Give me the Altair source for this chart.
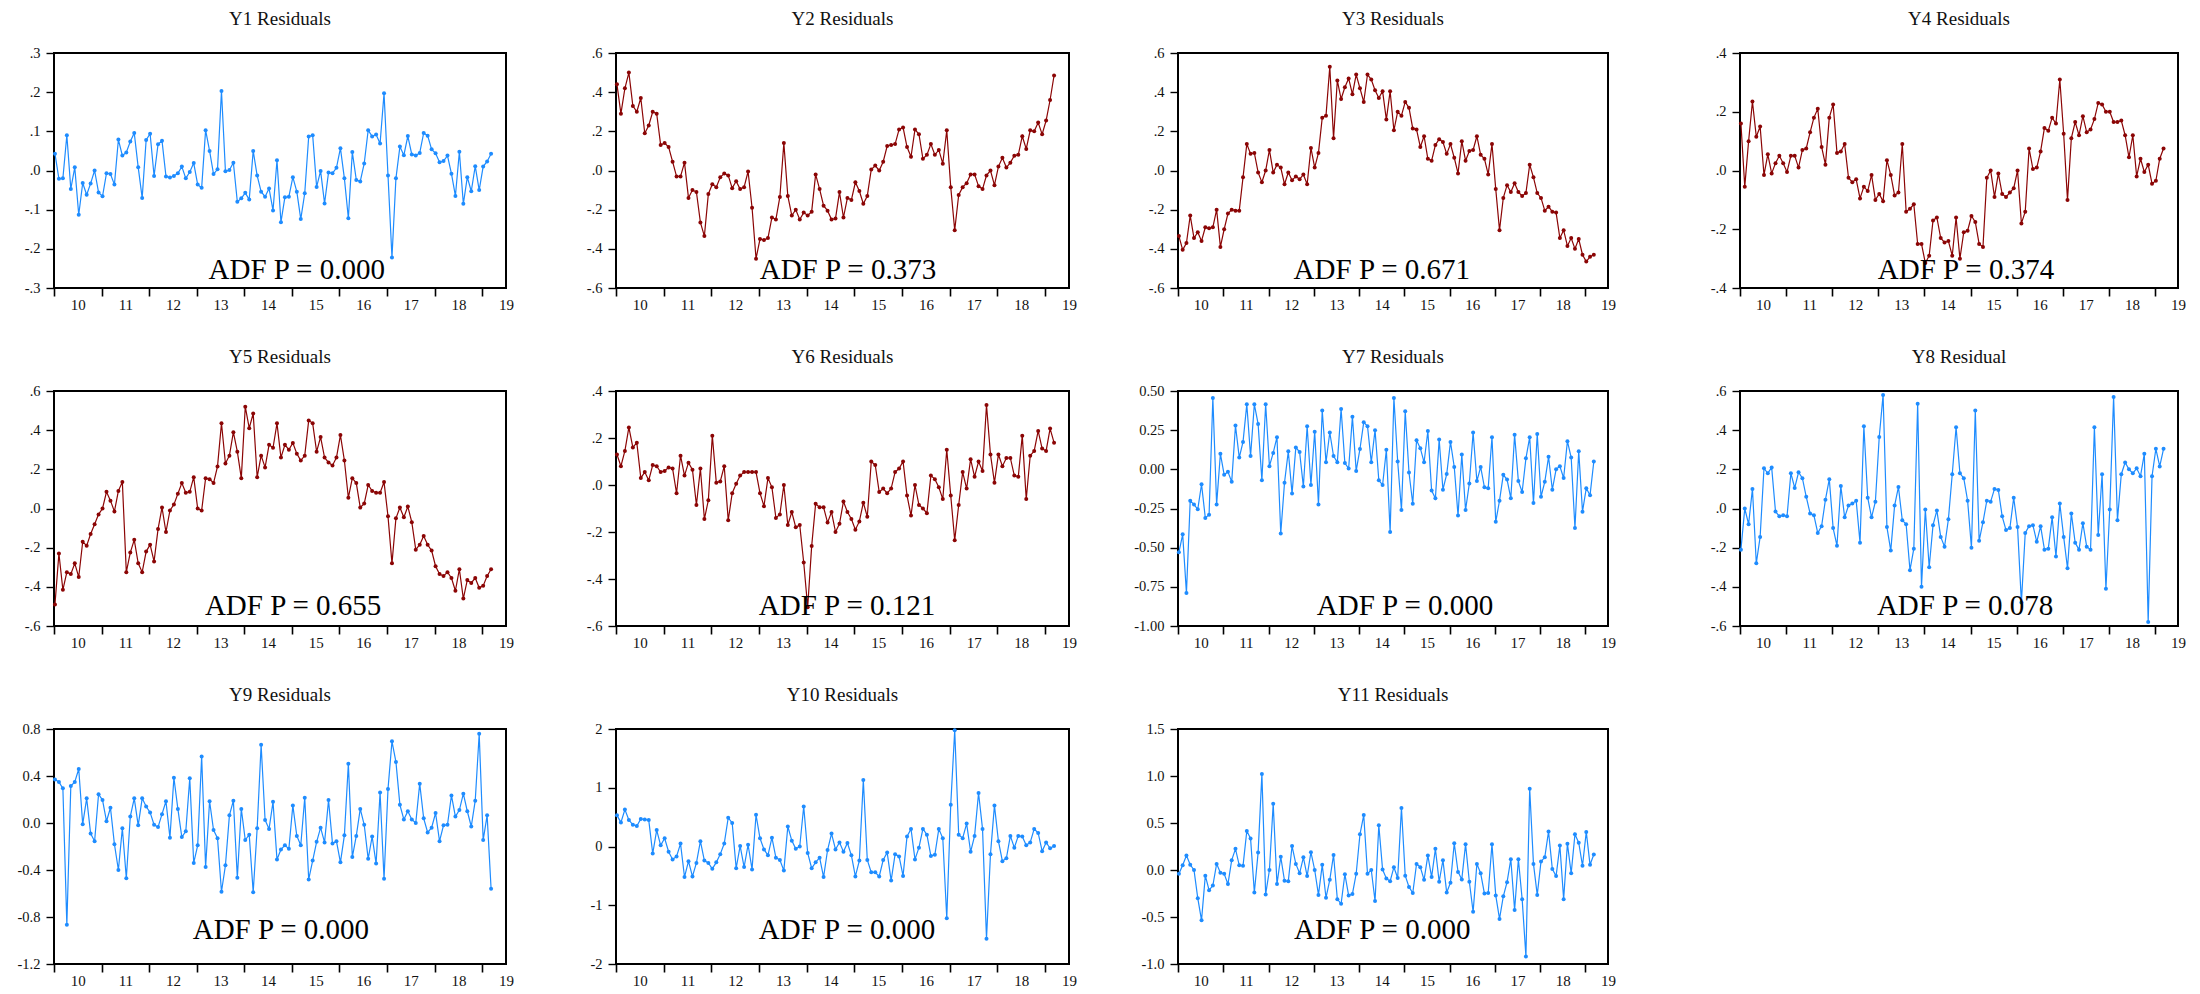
import altair as alt
import pandas as pd

# ---------------- data (monthly, Jan 2010 .. Mar 2019) ----------------
START_YEAR = 2010
N = 111
t = [START_YEAR + i / 12 + 0.02 for i in range(N)]

titles = ["Y1 Residuals", "Y2 Residuals", "Y3 Residuals", "Y4 Residuals",
          "Y5 Residuals", "Y6 Residuals", "Y7 Residuals", "Y8 Residual",
          "Y9 Residuals", "Y10 Residuals", "Y11 Residuals"]
adf_labels = ["ADF P = 0.000", "ADF P = 0.373", "ADF P = 0.671", "ADF P = 0.374",
              "ADF P = 0.655", "ADF P = 0.121", "ADF P = 0.000", "ADF P = 0.078",
              "ADF P = 0.000", "ADF P = 0.000", "ADF P = 0.000"]

y1 = [0.043, -0.021, -0.02, 0.09, -0.047, 0.008, -0.113, -0.032, -0.062, -0.033,
      0.0, -0.056, -0.066, -0.007, -0.009, -0.036, 0.079, 0.038, 0.046, 0.074,
      0.096, 0.008, -0.07, 0.078, 0.094, -0.014, 0.067, 0.076, -0.015, -0.018,
      -0.014, -0.007, 0.01, -0.02, -0.004, 0.019, -0.036, -0.044, 0.103, 0.05,
      -0.009, 0.003, 0.203, -0.002, 0.001, 0.02, -0.08, -0.071, -0.057, -0.074,
      0.05, -0.013, -0.054, -0.067, -0.046, -0.102, 0.026, -0.132, -0.068, -0.067,
      -0.017, -0.054, -0.124, -0.058, 0.087, 0.09, -0.042, -0.001, -0.084, -0.005,
      -0.007, 0.007, 0.057, -0.02, -0.122, 0.047, -0.024, -0.028, 0.018, 0.103,
      0.087, 0.092, 0.069, 0.197, -0.013, -0.222, -0.02, 0.061, 0.039, 0.088,
      0.041, 0.038, 0.045, 0.096, 0.089, 0.054, 0.044, 0.021, 0.024, 0.038,
      -0.008, -0.065, 0.048, -0.085, -0.017, -0.053, 0.011, -0.05, 0.01, 0.023,
      0.043]

y2 = [0.44, 0.29, 0.42, 0.50, 0.33, 0.30, 0.37, 0.19, 0.23, 0.30,
      0.29, 0.13, 0.14, 0.12, 0.045, -0.03, -0.03, 0.04, -0.14, -0.10,
      -0.11, -0.265, -0.335, -0.12, -0.07, -0.085, -0.035, -0.015, -0.025, -0.09,
      -0.055, -0.095, -0.085, -0.005, -0.19, -0.45, -0.35, -0.355, -0.345, -0.24,
      -0.25, -0.135, 0.14, -0.13, -0.23, -0.20, -0.25, -0.215, -0.23, -0.21,
      -0.02, -0.095, -0.18, -0.205, -0.25, -0.245, -0.11, -0.24, -0.14, -0.15,
      -0.06, -0.105, -0.17, -0.13, 0.005, 0.025, 0.0, 0.045, 0.125, 0.13,
      0.135, 0.21, 0.22, 0.12, 0.07, 0.21, 0.185, 0.06, 0.08, 0.135,
      0.08, 0.105, 0.035, 0.205, -0.085, -0.305, -0.125, -0.085, -0.065, -0.02,
      -0.02, -0.08, -0.095, -0.025, 0.0, -0.075, 0.02, 0.065, 0.015, 0.04,
      0.075, 0.08, 0.175, 0.11, 0.205, 0.20, 0.245, 0.185, 0.255, 0.36,
      0.485]

y3 = [-0.335, -0.405, -0.37, -0.23, -0.345, -0.315, -0.36, -0.29, -0.295, -0.29,
      -0.20, -0.39, -0.30, -0.22, -0.20, -0.205, -0.205, -0.035, 0.135, 0.085,
      0.09, -0.01, -0.06, 0.0, 0.105, -0.01, 0.03, 0.015, -0.07, -0.01,
      -0.05, -0.03, -0.045, -0.02, -0.07, 0.115, 0.015, 0.09, 0.27, 0.28,
      0.53, 0.165, 0.46, 0.365, 0.425, 0.47, 0.39, 0.49, 0.42, 0.35,
      0.49, 0.465, 0.41, 0.37, 0.405, 0.26, 0.405, 0.205, 0.30, 0.28,
      0.35, 0.32, 0.215, 0.21, 0.12, 0.175, 0.06, 0.05, 0.13, 0.16,
      0.145, 0.085, 0.135, 0.065, -0.015, 0.15, 0.05, 0.10, 0.105, 0.175,
      0.08, 0.06, -0.02, 0.135, -0.095, -0.305, -0.14, -0.075, -0.11, -0.065,
      -0.11, -0.13, -0.115, 0.03, -0.035, -0.115, -0.14, -0.205, -0.185, -0.21,
      -0.215, -0.345, -0.305, -0.385, -0.345, -0.40, -0.35, -0.43, -0.465, -0.44,
      -0.43]

y4 = [0.16, -0.055, 0.10, 0.235, 0.115, 0.15, -0.015, 0.055, -0.01, 0.025,
      0.05, 0.025, -0.005, 0.05, 0.05, 0.01, 0.07, 0.075, 0.13, 0.18,
      0.21, 0.08, 0.02, 0.18, 0.225, 0.06, 0.065, 0.09, -0.025, -0.04,
      -0.03, -0.095, -0.055, -0.07, -0.015, -0.10, -0.08, -0.105, 0.035, -0.015,
      -0.085, -0.075, 0.09, -0.14, -0.13, -0.115, -0.25, -0.25, -0.315, -0.29,
      -0.17, -0.16, -0.23, -0.245, -0.24, -0.29, -0.16, -0.30, -0.21, -0.205,
      -0.155, -0.175, -0.25, -0.26, -0.025, 0.0, -0.09, -0.01, -0.08, -0.09,
      -0.075, -0.06, 0.0, -0.18, -0.14, 0.075, 0.005, 0.01, 0.065, 0.145,
      0.135, 0.18, 0.16, 0.31, 0.125, -0.10, 0.11, 0.165, 0.12, 0.185,
      0.13, 0.14, 0.175, 0.23, 0.225, 0.20, 0.20, 0.165, 0.165, 0.17,
      0.12, 0.045, 0.12, -0.02, 0.04, -0.005, 0.02, -0.045, -0.035, 0.04,
      0.075]

y5 = [-0.49, -0.23, -0.415, -0.325, -0.335, -0.28, -0.35, -0.17, -0.19, -0.13,
      -0.08, -0.03, 0.0, 0.085, 0.04, -0.015, 0.09, 0.135, -0.325, -0.225,
      -0.16, -0.28, -0.325, -0.22, -0.185, -0.27, -0.105, 0.005, -0.12, -0.01,
      0.02, 0.075, 0.13, 0.08, 0.085, 0.16, 0.0, -0.01, 0.155, 0.15,
      0.13, 0.215, 0.435, 0.23, 0.27, 0.39, 0.29, 0.155, 0.52, 0.41,
      0.485, 0.16, 0.27, 0.21, 0.325, 0.31, 0.435, 0.26, 0.325, 0.30,
      0.335, 0.28, 0.245, 0.27, 0.45, 0.435, 0.29, 0.365, 0.26, 0.235,
      0.22, 0.26, 0.375, 0.245, 0.055, 0.155, 0.13, 0.005, 0.025, 0.12,
      0.09, 0.08, 0.08, 0.135, -0.04, -0.28, -0.05, 0.005, -0.045, 0.01,
      -0.07, -0.21, -0.185, -0.14, -0.185, -0.215, -0.295, -0.335, -0.345, -0.325,
      -0.355, -0.42, -0.31, -0.46, -0.365, -0.38, -0.355, -0.405, -0.395, -0.345,
      -0.31]

y6 = [0.13, 0.08, 0.145, 0.245, 0.16, 0.18, 0.03, 0.055, 0.02, 0.085,
      0.08, 0.055, 0.06, 0.075, 0.07, -0.035, 0.125, 0.04, 0.095, 0.065,
      -0.085, 0.07, -0.145, -0.065, 0.21, 0.01, 0.015, 0.08, -0.15, -0.035,
      0.005, 0.04, 0.055, 0.055, 0.055, 0.055, -0.035, -0.09, 0.03, -0.01,
      -0.14, -0.125, 0.0, -0.17, -0.115, -0.18, -0.17, -0.33, -0.52, -0.26,
      -0.08, -0.095, -0.095, -0.16, -0.115, -0.20, -0.165, -0.07, -0.115, -0.145,
      -0.19, -0.155, -0.075, -0.135, 0.10, 0.085, -0.03, -0.015, -0.035, -0.015,
      0.055, 0.07, 0.10, -0.045, -0.13, 0.0, -0.085, -0.10, -0.12, 0.04,
      0.025, -0.01, -0.06, 0.15, -0.045, -0.235, -0.085, 0.055, -0.015, 0.11,
      0.035, 0.10, 0.06, 0.34, 0.13, 0.01, 0.13, 0.08, 0.115, 0.115,
      0.04, 0.035, 0.21, -0.06, 0.125, 0.145, 0.23, 0.155, 0.145, 0.24,
      0.18]

y7 = [-0.53, -0.415, -0.79, -0.20, -0.225, -0.255, -0.095, -0.31, -0.29, 0.455,
      -0.225, 0.10, -0.035, -0.015, -0.08, 0.28, 0.075, 0.175, 0.415, 0.085,
      0.415, 0.29, -0.07, 0.415, 0.02, 0.105, 0.205, -0.41, -0.085, 0.115,
      -0.155, 0.14, 0.11, -0.11, 0.275, -0.10, 0.24, -0.225, 0.375, 0.045,
      0.235, 0.085, 0.045, 0.385, 0.04, 0.005, 0.335, -0.01, 0.13, 0.30,
      0.275, 0.045, 0.25, -0.07, -0.10, 0.125, -0.40, 0.455, 0.05, -0.26,
      0.37, -0.02, -0.22, 0.185, 0.135, 0.045, 0.245, -0.135, -0.185, 0.19,
      -0.13, -0.03, 0.175, 0.015, -0.295, 0.095, -0.26, -0.09, 0.235, -0.075,
      0.015, -0.115, -0.12, 0.205, -0.335, -0.20, -0.035, -0.065, -0.185, 0.22,
      -0.075, -0.145, 0.07, 0.205, -0.215, 0.225, -0.175, -0.08, 0.08, -0.13,
      0.0, 0.02, -0.055, 0.18, 0.075, -0.375, 0.115, -0.27, -0.12, -0.165,
      0.05]

y8 = [-0.21, 0.0, -0.08, 0.10, -0.28, -0.145, 0.205, 0.18, 0.21, -0.015,
      -0.04, -0.035, -0.04, 0.18, 0.105, 0.185, 0.155, 0.06, -0.025, -0.035,
      -0.125, -0.09, 0.045, 0.15, -0.10, -0.19, 0.115, -0.045, 0.015, 0.025,
      0.04, -0.175, 0.42, 0.055, -0.045, 0.035, 0.365, 0.58, -0.095, -0.215,
      0.015, 0.11, -0.06, -0.08, -0.315, -0.205, 0.535, -0.40, -0.005, -0.30,
      -0.085, -0.01, -0.145, -0.195, -0.055, 0.175, 0.415, 0.18, 0.155, 0.04,
      -0.20, 0.50, -0.165, -0.07, 0.04, 0.035, 0.10, 0.095, -0.04, -0.11,
      -0.10, 0.055, -0.095, -0.48, -0.125, -0.09, -0.085, -0.17, -0.09, -0.21,
      -0.205, -0.045, -0.245, 0.025, -0.145, -0.305, -0.025, -0.175, -0.21, -0.075,
      -0.195, -0.21, 0.415, -0.135, 0.175, -0.41, -0.005, 0.57, -0.06, 0.175,
      0.235, 0.20, 0.18, 0.205, 0.165, 0.28, -0.58, 0.165, 0.305, 0.215,
      0.305]

y9 = [0.37, 0.35, 0.295, -0.865, 0.315, 0.35, 0.46, -0.01, 0.21, -0.09,
      -0.155, 0.245, 0.195, 0.015, 0.13, -0.18, -0.40, -0.045, -0.47, 0.055,
      0.21, -0.02, 0.21, 0.14, 0.09, -0.015, -0.035, 0.075, 0.185, -0.125,
      0.385, 0.12, -0.12, -0.07, 0.38, -0.34, -0.19, 0.565, -0.375, 0.185,
      -0.06, -0.13, -0.585, -0.36, 0.065, 0.19, -0.465, 0.12, -0.145, -0.10,
      -0.59, -0.045, 0.665, 0.025, -0.05, 0.18, -0.31, -0.225, -0.19, -0.22,
      0.15, -0.11, -0.19, 0.215, -0.48, -0.32, -0.16, -0.04, -0.165, 0.195,
      -0.175, -0.155, -0.335, -0.105, 0.505, -0.29, -0.11, 0.12, -0.015, -0.305,
      -0.115, -0.345, 0.26, -0.475, 0.29, 0.695, 0.52, 0.155, 0.03, 0.10,
      0.03, 0.0, 0.335, 0.04, -0.08, -0.04, 0.085, -0.155, -0.02, -0.015,
      0.235, 0.055, 0.11, 0.25, 0.10, -0.03, 0.19, 0.76, -0.145, 0.065,
      -0.56]

y10 = [0.53, 0.41, 0.63, 0.45, 0.37, 0.35, 0.47, 0.46, 0.45, -0.12,
       0.28, 0.02, 0.14, -0.09, -0.22, -0.17, 0.05, -0.52, -0.25, -0.51,
       -0.28, 0.09, -0.24, -0.28, -0.38, -0.27, -0.13, 0.05, 0.49, 0.40,
       -0.37, 0.01, -0.35, 0.03, -0.39, 0.54, 0.14, -0.05, -0.15, 0.15,
       -0.19, -0.23, -0.41, 0.34, 0.10, -0.04, 0.0, 0.68, -0.11, -0.37,
       -0.27, -0.19, -0.52, -0.06, 0.22, -0.05, 0.07, -0.09, 0.06, -0.15,
       -0.51, -0.24, 1.13, -0.23, -0.44, -0.44, -0.51, -0.23, -0.10, -0.58,
       -0.13, -0.17, -0.50, 0.17, 0.30, -0.22, -0.02, 0.30, 0.20, -0.16,
       -0.14, 0.30, 0.14, -1.22, 0.71, 1.98, 0.20, 0.14, 0.39, -0.09,
       0.18, 0.91, 0.30, -1.57, -0.13, 0.70, 0.09, -0.25, -0.20, 0.18,
       -0.02, 0.18, 0.17, 0.02, 0.07, 0.30, 0.23, -0.08, 0.07, -0.03,
       0.01]

y11 = [-0.04, 0.05, 0.155, 0.055, 0.0, -0.30, -0.535, -0.06, -0.215, -0.165,
       0.065, -0.03, -0.04, -0.15, 0.105, 0.225, 0.05, 0.045, 0.415, 0.335,
       -0.24, 0.185, 1.02, -0.26, 0.0, 0.705, -0.15, 0.14, -0.115, -0.12,
       0.255, 0.065, -0.035, 0.135, -0.065, 0.19, 0.0, -0.265, 0.055, -0.295,
       -0.105, 0.16, -0.31, -0.36, -0.045, -0.27, -0.255, -0.04, 0.38, 0.585,
       -0.04, 0.0, -0.33, 0.475, 0.005, -0.09, -0.12, 0.03, -0.085, 0.66,
       -0.06, -0.18, -0.245, 0.065, 0.03, -0.105, 0.155, -0.075, 0.225, -0.125,
       0.105, -0.24, -0.135, 0.285, -0.02, -0.10, 0.275, -0.125, -0.445, 0.065,
       -0.035, -0.25, -0.245, 0.275, -0.27, -0.52, -0.28, -0.13, 0.115, -0.425,
       0.115, -0.31, -0.92, 0.865, 0.065, -0.265, 0.09, 0.135, 0.41, 0.01,
       -0.065, 0.26, -0.31, 0.28, -0.035, 0.38, 0.29, 0.045, 0.405, 0.055,
       0.165]

series = [y1, y2, y3, y4, y5, y6, y7, y8, y9, y10, y11]

# y-axis scale settings (domain, tick list, label style)
y_domains = [(-0.3, 0.3), (-0.6, 0.6), (-0.6, 0.6), (-0.4, 0.4), (-0.6, 0.6), (-0.6, 0.4),
             (-1.0, 0.5), (-0.6, 0.6), (-1.2, 0.8), (-2.0, 2.0), (-1.0, 1.5)]
y_ticks = [
    [-0.3, -0.2, -0.1, 0.0, 0.1, 0.2, 0.3],
    [-0.6, -0.4, -0.2, 0.0, 0.2, 0.4, 0.6],
    [-0.6, -0.4, -0.2, 0.0, 0.2, 0.4, 0.6],
    [-0.4, -0.2, 0.0, 0.2, 0.4],
    [-0.6, -0.4, -0.2, 0.0, 0.2, 0.4, 0.6],
    [-0.6, -0.4, -0.2, 0.0, 0.2, 0.4],
    [-1.0, -0.75, -0.5, -0.25, 0.0, 0.25, 0.5],
    [-0.6, -0.4, -0.2, 0.0, 0.2, 0.4, 0.6],
    [-1.2, -0.8, -0.4, 0.0, 0.4, 0.8],
    [-2, -1, 0, 1, 2],
    [-1.0, -0.5, 0.0, 0.5, 1.0, 1.5],
]
SIGN = "(datum.value < 0 ? '-' : '') + "
EXPR_SHORT = SIGN + "replace(format(abs(datum.value), '.1f'), '0.', '.')"
y_label_exprs = [EXPR_SHORT] * 6 + [SIGN + "format(abs(datum.value), '.2f')", EXPR_SHORT,
                                    SIGN + "format(abs(datum.value), '.1f')",
                                    SIGN + "format(abs(datum.value), '.0f')",
                                    SIGN + "format(abs(datum.value), '.1f')"]

BLUE = "#1E8CFF"
RED = "#8B0505"
colors = [BLUE, RED, RED, RED, RED, RED, BLUE, BLUE, BLUE, BLUE, BLUE]

# ---------------- styling ----------------
SERIF = "Liberation Serif"
COL_W = [452, 453, 430, 438]
PLOT_H = 235
ROW_TEXT_UP = [9, 11, 25]
TEXT_FRAC = [0.537, 0.512, 0.474, 0.516, 0.529, 0.51, 0.528, 0.514, 0.502, 0.51, 0.475]
Y_EXTENT = 53

panels = []
for k in range(11):
    w = COL_W[k % 4]
    row = k // 4
    df = pd.DataFrame({"t": t, "v": series[k]})
    x_enc = alt.X(
        "t:Q",
        scale=alt.Scale(domain=[2010, 2019.5], nice=False, zero=False),
        axis=alt.Axis(values=list(range(2010, 2020)),
                      labelExpr="substring(toString(datum.value), 2)",
                      labelOffset=w / 19.0, labelFlush=False, labelOverlap=False,
                      tickSize=8, tickWidth=1.6, tickColor="black", domain=False,
                      grid=False, title=None, labelFont=SERIF, labelFontSize=15,
                      labelColor="#111", labelPadding=1),
    )
    y_enc = alt.Y(
        "v:Q",
        scale=alt.Scale(domain=list(y_domains[k]), nice=False, zero=False),
        axis=alt.Axis(values=y_ticks[k], labelExpr=y_label_exprs[k],
                      tickSize=8, tickWidth=1.4, tickColor="black", domain=False,
                      grid=False, title=None, labelFont=SERIF, labelFontSize=14.5,
                      labelColor="#111", labelPadding=6,
                      minExtent=Y_EXTENT, maxExtent=Y_EXTENT),
    )
    base = alt.Chart(df)
    line = base.mark_line(color=colors[k], strokeWidth=1.2).encode(x=x_enc, y=y_enc)
    pts = base.mark_circle(color=colors[k], size=16, opacity=1).encode(x=x_enc, y=y_enc)
    txt = alt.Chart(pd.DataFrame({"label": [adf_labels[k]]})).mark_text(
        font=SERIF, fontSize=29, align="center", baseline="alphabetic", color="black"
    ).encode(text="label:N", x=alt.value(w * TEXT_FRAC[k]), y=alt.value(PLOT_H - ROW_TEXT_UP[row]))
    panel = alt.layer(line, pts, txt).properties(
        width=w, height=PLOT_H,
        title=alt.TitleParams(titles[k], font=SERIF, fontSize=19, fontWeight="normal",
                              color="#111", anchor="middle", offset=16),
    )
    panels.append(panel)

chart = alt.concat(*panels, columns=4, align="all",
                   spacing={"row": 34, "column": 46}).properties(
    padding={"left": 0, "top": 9, "right": 0, "bottom": 0},
    background="white",
).configure_view(stroke="black", strokeWidth=2)

chart.save("out.html", embed_options={"renderer": "svg", "actions": False})
